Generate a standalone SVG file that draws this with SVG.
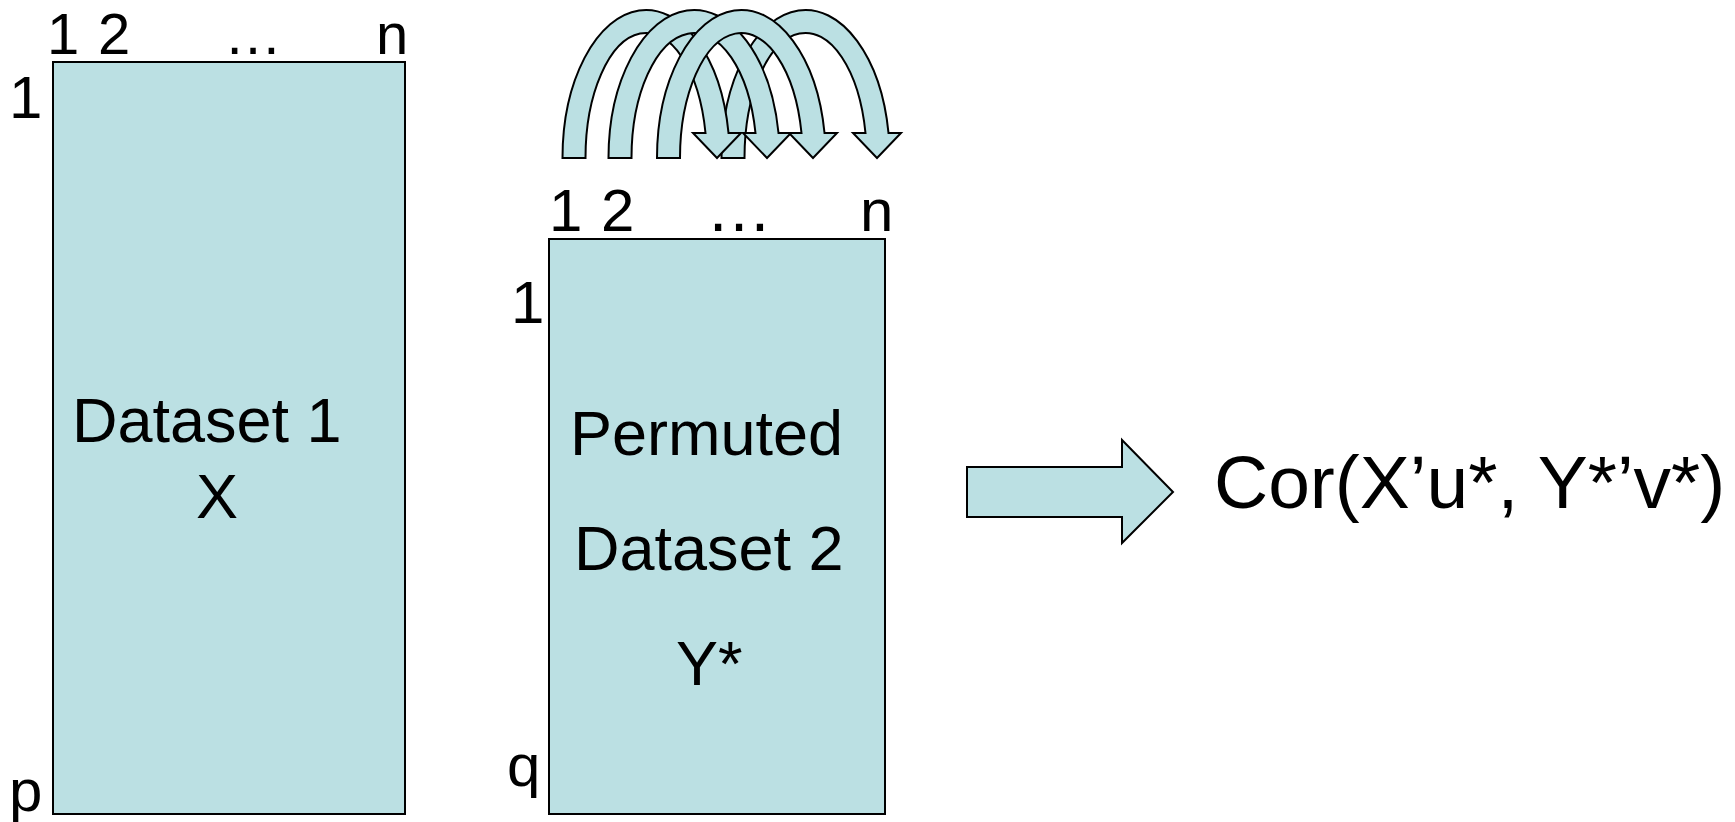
<svg xmlns="http://www.w3.org/2000/svg" width="1735" height="822" viewBox="0 0 1735 822">
  <style>
    .box { fill: #BBE0E3; stroke: #000; stroke-width: 2; }
    .shape { fill: #BBE0E3; stroke: #000; stroke-width: 2; stroke-linejoin: miter; }
    text { font-family: "Liberation Sans", Arial, sans-serif; fill: #000; }
    .idx1 { font-size: 58px; }
    .idx2 { font-size: 60px; }
    .dots { font-size: 66px; }
    .body { font-size: 63px; }
    .big { font-size: 75px; }
  </style>
  <rect width="1735" height="822" fill="#fff"/>

  <!-- Dataset 1 (p x n) -->
  <g id="dataset1">
    <rect class="box" x="53" y="62" width="352" height="752"/>
    <text class="idx1" x="47" y="54">1</text>
    <text class="idx1" x="98" y="54">2</text>
    <text class="idx1" x="224" y="54">…</text>
    <text class="idx1" x="376" y="54">n</text>
    <text class="idx2" x="9" y="118">1</text>
    <text class="idx2" x="9" y="811">p</text>
    <text class="body" x="72" y="442">Dataset 1</text>
    <text class="body" x="196" y="518">X</text>
  </g>

  <!-- Permuted dataset 2 (q x n) -->
  <g id="dataset2">
    <rect class="box" x="549" y="239" width="336" height="575"/>
    <text class="idx2" x="549" y="231">1</text>
    <text class="idx2" x="601" y="231">2</text>
    <text class="dots" x="706" y="231">…</text>
    <text class="idx2" x="860" y="231">n</text>
    <text class="idx2" x="511" y="323">1</text>
    <text class="idx2" x="507" y="786">q</text>
    <text class="body" x="570" y="455">Permuted</text>
    <text class="body" x="574" y="570">Dataset 2</text>
    <text class="body" x="676" y="685">Y*</text>
  </g>

  <!-- column shuffling arcs -->
  <g id="permutation">
    <path class="shape" d="M721.5,158 A84.11,148 0 0 1 888.51,133 L901,133 L877,158 L853,133 L865.49,133 A61.11,125 0 0 0 744.5,158 Z"/>
    <path class="shape" d="M562.5,158 A83.61,148 0 0 1 728.52,133 L741,133 L717,158 L693,133 L705.5,133 A60.61,125 0 0 0 585.5,158 Z"/>
    <path class="shape" d="M608.5,158 A85.63,148 0 0 1 778.53,133 L791,133 L767,158 L743,133 L755.49,133 A62.63,125 0 0 0 631.5,158 Z"/>
    <path class="shape" d="M657,158 A84.37,148 0 0 1 824.53,133 L837,133 L813,158 L789,133 L801.5,133 A61.37,125 0 0 0 680,158 Z"/>
  </g>

  <!-- block arrow to the correlation -->
  <g id="connectors">
    <polygon class="shape" points="967,467 1122,467 1122,440 1173,492 1122,543 1122,517 967,517"/>
  </g>

  <g id="correlation">
    <text class="big" x="1214" y="508">Cor(X’u*, Y*’v*)</text>
  </g>
</svg>
